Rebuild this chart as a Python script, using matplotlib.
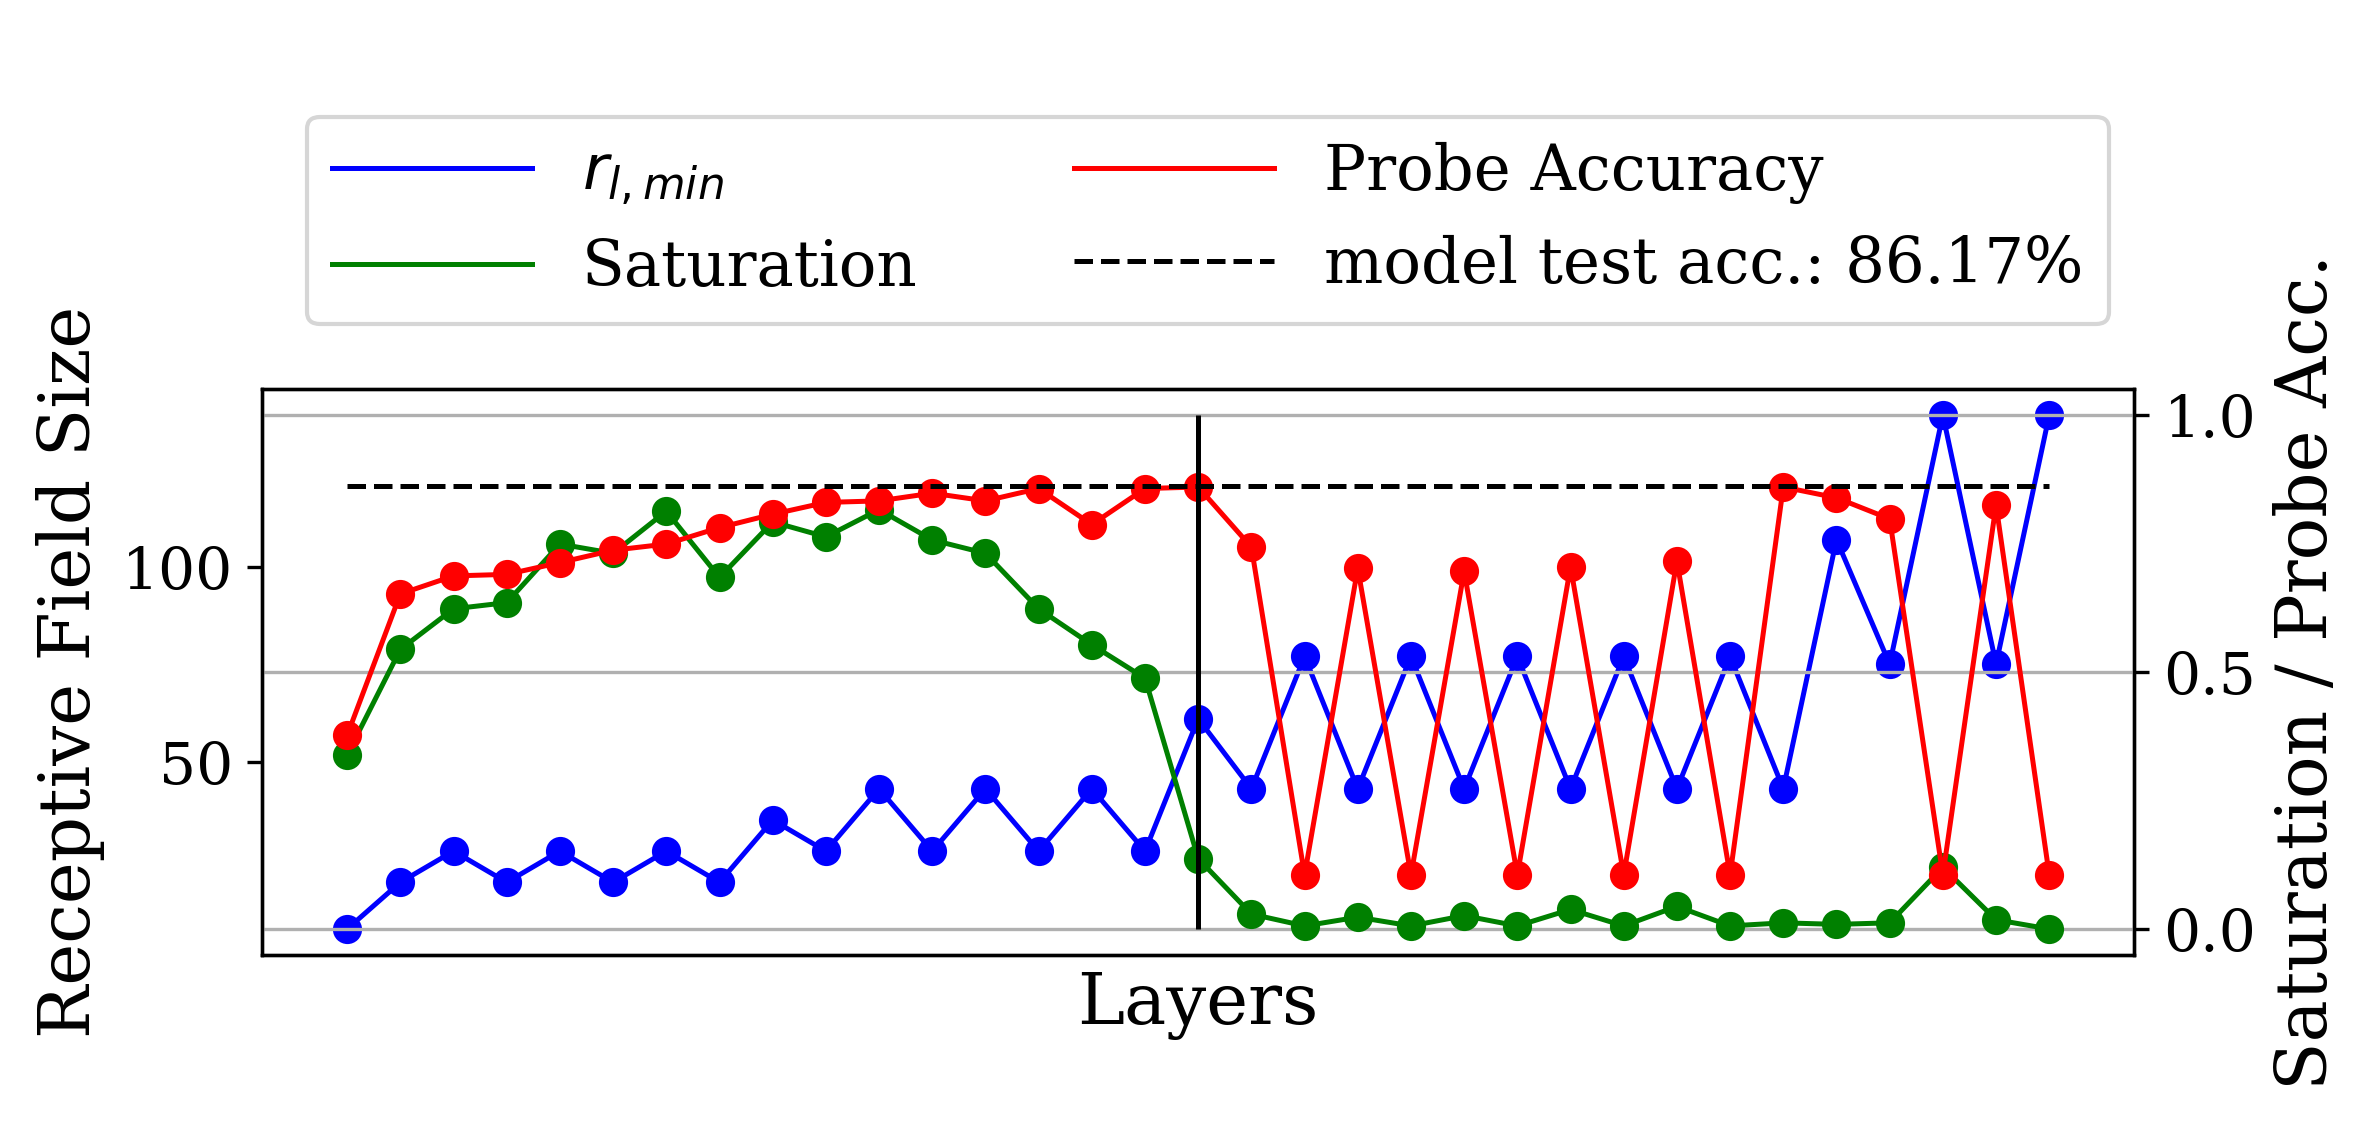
import matplotlib.pyplot as plt
from matplotlib.lines import Line2D

plt.rcParams['font.family'] = 'DejaVu Serif'

# receptive field size per layer (left axis)
r_min = [7, 19, 27, 19, 27, 19, 27, 19, 35, 27, 43, 27, 43, 27, 43, 27, 61, 43, 77, 43, 77, 43, 77, 43,
         77, 43, 77, 43, 107, 75, 139, 75, 139]
# probe accuracy per layer (right axis)
probe_acc = [0.377, 0.652, 0.687, 0.69, 0.713, 0.737, 0.749, 0.781, 0.807, 0.830, 0.833, 0.848, 0.833,
             0.857, 0.787, 0.857, 0.86, 0.743, 0.105, 0.702, 0.105, 0.696, 0.105, 0.705, 0.105, 0.716,
             0.105, 0.86, 0.839, 0.798, 0.105, 0.825, 0.105]
# saturation per layer (right axis)
saturation = [0.339, 0.544, 0.623, 0.635, 0.749, 0.731, 0.813, 0.684, 0.792, 0.763, 0.816, 0.757, 0.731,
              0.623, 0.553, 0.488, 0.137, 0.029, 0.006, 0.023, 0.006, 0.026, 0.006, 0.038, 0.006, 0.044,
              0.006, 0.012, 0.009, 0.012, 0.12, 0.018, 0.0]
model_acc = 0.8617
border_layer = 16

layers = list(range(len(r_min)))

fig, ax = plt.subplots(figsize=(7.87, 3.807), dpi=300)
fig.subplots_adjust(left=0.111, right=0.904, top=0.659, bottom=0.164)
ax2 = ax.twinx()

ax.plot(layers, r_min, color='blue', marker='o', markersize=6, linewidth=1.2)
ax2.plot(layers, saturation, color='green', marker='o', markersize=6, linewidth=1.2)
ax2.plot(layers, probe_acc, color='red', marker='o', markersize=6, linewidth=1.2)
ax2.plot([layers[0], layers[-1]], [model_acc, model_acc], 'k--', linewidth=1.2)
ax2.vlines(border_layer, 0, 1, color='black', linewidth=1.2)

ax.set_xticks([])
ax.set_yticks([50, 100])
ax2.set_yticks([0.0, 0.5, 1.0])
ax2.grid(axis='y', color='#b0b0b0', linewidth=0.8)
ax.tick_params(labelsize=14)
ax2.tick_params(labelsize=14)
ax.set_xlabel('Layers', fontsize=17)
ax.set_ylabel('Receptive Field Size', fontsize=17)
ax2.set_ylabel('Saturation / Probe Acc.', fontsize=17)

handles = [Line2D([], [], color='blue', linewidth=1.2),
           Line2D([], [], color='green', linewidth=1.2),
           Line2D([], [], color='red', linewidth=1.2),
           Line2D([], [], color='black', linestyle='--', linewidth=1.2)]
labels = ['$r_{l,min}$', 'Saturation', 'Probe Accuracy', 'model test acc.: 86.17%']
ax.legend(handles, labels, ncol=2, fontsize=15, loc='lower right',
          bbox_to_anchor=(1.003, 1.06), columnspacing=2.5, handlelength=3.2)

fig.savefig('out.png')
